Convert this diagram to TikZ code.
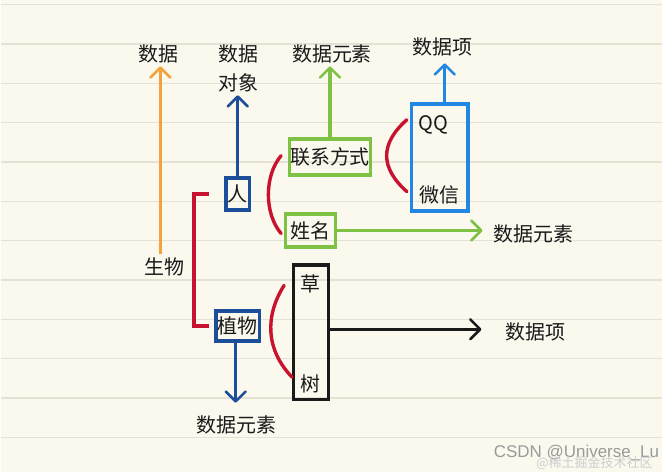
\documentclass[tikz,border=0pt]{standalone}
\usepackage{fontspec}
\setmainfont{Noto Sans CJK SC}
\newfontfamily\markfont{Liberation Sans}
\usetikzlibrary{arrows.meta}
\definecolor{paper}{HTML}{FBF8EE}
\definecolor{ruling}{HTML}{E4E1D5}
\definecolor{inkblack}{HTML}{1A1A1A}
\definecolor{penorange}{HTML}{F2A43C}
\definecolor{pennavy}{HTML}{1C4E9A}
\definecolor{penblue}{HTML}{2287E3}
\definecolor{pengreen}{HTML}{7DC244}
\definecolor{penred}{HTML}{C8132E}
\definecolor{markgray}{HTML}{9A9A9A}

\begin{document}
\begin{tikzpicture}[x=1pt, y=-1pt,
  every node/.style={font=\fontsize{20}{29}\selectfont, text=inkblack},
  word/.style={inner sep=3pt},
  box/.style={line width=3.6pt, inner sep=0pt},
  arr/.style={line width=3.4pt, -{Straight Barb[length=10pt,width=20pt,line width=2.6pt,round]}},
  brace/.style={penred, line width=3.4pt, line cap=round}]

  % ruled paper
  \fill[paper] (0,0) rectangle (663,473);
  \foreach \k in {0,...,11}
    \draw[ruling, line width=1.4pt] (0,{4.5+39.45*\k}) -- (663,{4.5+39.45*\k});
  \useasboundingbox (0,0) rectangle (663,473);

  % labels
  \node[word] (shuju) at (158,54) {数据};
  \node[word, align=center] (duixiang) at (238,68.5) {数据\\对象};
  \node[word] (yuansuA) at (332,54) {数据元素};
  \node[word] (xiangA) at (443,47) {数据项};
  \node[word] (yuansuB) at (534,234) {数据元素};
  \node[word] (shengwu) at (164,267) {生物};
  \node[word] (xiangB) at (536,333) {数据项};
  \node[word] (yuansuC) at (236,426) {数据元素};

  % boxes
  \node[box, draw=pennavy, minimum width=24pt, minimum height=32pt] (ren) at (237.5,194.5) {人};
  \node[box, draw=pennavy, minimum width=44pt, minimum height=30pt] (zhiwu) at (237.5,326.5) {植物};
  \node[box, draw=pengreen, minimum width=81pt, minimum height=36pt] (lianxi) at (330,157.5) {联系方式};
  \node[box, draw=pengreen, minimum width=50pt, minimum height=33pt] (xingming) at (310.5,231) {姓名};
  \node[box, draw=penblue, minimum width=57pt, minimum height=107pt] (qqbox) at (440,158) {};
  \node[box, draw=inkblack, minimum width=35pt, minimum height=135pt] (caoshu) at (311,333) {};
  \node[word] (qq) at (434,125) {QQ};
  \node[word] (weixin) at (440,195) {微信};
  \node[word] (cao) at (310,284) {草};
  \node[word] (shu) at (310,385) {树};

  % arrows
  \draw[arr, penorange] ([xshift=-4pt]shengwu.north) -- ([xshift=-4pt]shengwu.north |- shuju.south);
  \draw[arr, pennavy] (ren.north) -- (ren.north |- duixiang.south);
  \draw[arr, pengreen] (lianxi.north) -- (lianxi.north |- yuansuA.south);
  \draw[arr, penblue, shorten >=4pt] ([xshift=5pt]qqbox.north) -- ([xshift=5pt]qqbox.north |- xiangA.south);
  \draw[arr, pengreen, shorten >=8pt] (xingming.east) -- (xingming.east -| yuansuB.west);
  \draw[arr, pennavy, shorten >=10pt] ([xshift=-2pt]zhiwu.south) -- ([xshift=-2pt]zhiwu.south |- yuansuC.north);
  \draw[arr, inkblack, shorten >=21pt] ([yshift=3pt]caoshu.east) -- ([yshift=3pt]caoshu.east -| xiangB.west);

  % red braces
  \draw[brace, line cap=butt] ([xshift=-15pt]ren.west) -- ++(-15,0) |- ([xshift=-5pt]zhiwu.west);
  \draw[brace] (281,156) .. controls (264,176) and (264,214) .. (281,234);
  \draw[brace] (407,120) .. controls (380,144) and (380,168) .. (407,192);
  \draw[brace] (284,286) .. controls (265,316) and (265,350) .. (292,378);

  % watermark
  \node[font=\markfont\fontsize{17}{17}\selectfont, text=markgray] (csdn) at (577,454) {CSDN @Universe\_Lu};
  \node[font=\fontsize{13}{13}\selectfont, text=markgray!50] (juejin) at (595,464) {@稀土掘金技术社区};

\end{tikzpicture}
\end{document}
